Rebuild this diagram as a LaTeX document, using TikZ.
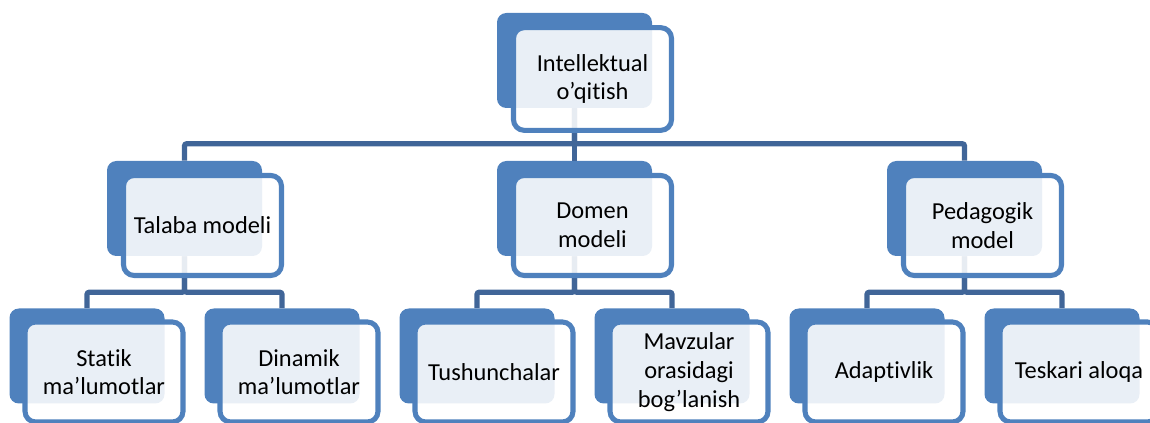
\documentclass[tikz,border=0pt]{standalone}
\usepackage{fontspec}
\setmainfont[Ligatures={NoCommon,NoContextual},RawFeature={-liga;-clig}]{Carlito}
\usepackage{tikz}

\definecolor{accblue}{RGB}{79,129,189}
\definecolor{linkblue}{RGB}{64,101,152}

\begin{document}
\begin{tikzpicture}[x=0.75pt,y=0.75pt,yscale=-1,xscale=1,
  back/.style={rectangle,rounded corners=7pt,fill=accblue,draw=none,
    minimum width=116.25pt,minimum height=71.25pt,inner sep=0pt},
  front/.style={rectangle,rounded corners=8pt,draw=accblue,line width=3.8pt,
    fill=white,fill opacity=0.88,text opacity=1,
    minimum width=118.5pt,minimum height=75pt,inner sep=0pt,align=center,
    font=\fontsize{18.3}{21.5}\selectfont},
  link/.style={draw=linkblue,line width=3.8pt,rounded corners=1.5pt}]
\useasboundingbox (0,0) rectangle (1150,423);

%Shape: back boxes
\node[back] (intel) at (574.5,60.5) {};
\node[back] (talaba) at (184.5,208.5) {};
\node[back] (domen) at (574.5,208.5) {};
\node[back] (pedag) at (964.5,208.5) {};
\node[back] (statik) at (87,356) {};
\node[back] (dinamik) at (282,356) {};
\node[back] (tushun) at (477,356) {};
\node[back] (mavzu) at (672,356) {};
\node[back] (adapt) at (867,356) {};
\node[back] (teskari) at (1062,356) {};

%Connectors
\draw[link] (intel.south) -- ++(0,35.5) -| (talaba.north);
\draw[link] (intel.south) -- ++(0,35.5) -| (domen.north);
\draw[link] (intel.south) -- ++(0,35.5) -| (pedag.north);
\draw[link] (talaba.south) -- ++(0,36) -| (statik.north);
\draw[link] (talaba.south) -- ++(0,36) -| (dinamik.north);
\draw[link] (domen.south) -- ++(0,36) -| (tushun.north);
\draw[link] (domen.south) -- ++(0,36) -| (mavzu.north);
\draw[link] (pedag.south) -- ++(0,36) -| (adapt.north);
\draw[link] (pedag.south) -- ++(0,36) -| (teskari.north);

% Text Nodes
\node[front,minimum height=77pt] (intel-t) at (592.5,79) {Intellektual\\o’qitish};
\node[front] (talaba-t) at (202.5,225.5) {Talaba modeli};
\node[front] (domen-t) at (592.5,225.5) {Domen\\modeli};
\node[front] (pedag-t) at (982.5,225.5) {Pedagogik\\model};
\node[front] (statik-t) at (104,372) {Statik\\ma’lumotlar};
\node[front] (dinamik-t) at (299,372) {Dinamik\\ma’lumotlar};
\node[front] (tushun-t) at (494,372) {Tushunchalar};
\node[front] (mavzu-t) at (689,372) {Mavzular\\orasidagi\\bog’lanish};
\node[front] (adapt-t) at (884,372) {Adaptivlik};
\node[front] (teskari-t) at (1079,372) {Teskari aloqa};

\end{tikzpicture}
\end{document}
